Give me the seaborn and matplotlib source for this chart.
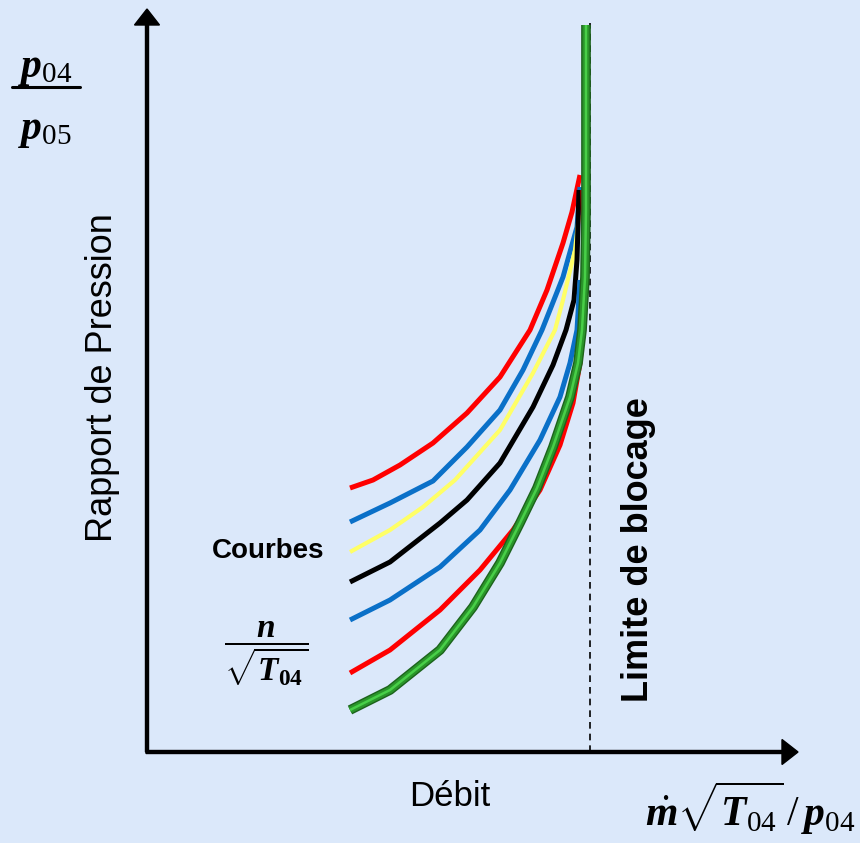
import numpy as np
import matplotlib
matplotlib.use("Agg")
import matplotlib.pyplot as plt
import seaborn as sns

sns.set_theme(style="white")
plt.rcParams["font.family"] = ["Liberation Sans", "DejaVu Sans"]
plt.rcParams["text.color"] = "black"
plt.rcParams["mathtext.fontset"] = "custom"
plt.rcParams["mathtext.rm"] = "Liberation Serif"
plt.rcParams["mathtext.it"] = "Liberation Serif:italic:bold"
plt.rcParams["mathtext.bf"] = "Liberation Serif:bold"

BG = "#dbe8fa"

# speed lines n/sqrt(T04): debit (x) vs pressure ratio (y), arbitrary units
red_top_x = [203, 226, 253, 286, 320, 353, 383, 400, 416, 425, 433]
red_top_y = [264, 272, 287, 309, 339, 375, 422, 462, 509, 540, 577]
blue_top_x = [203, 243, 286, 320, 353, 376, 395, 416, 430, 433]
blue_top_y = [230, 249, 271, 305, 342, 382, 422, 475, 525, 565]
yellow_x = [203, 243, 276, 308, 353, 386, 408, 416, 428, 432]
yellow_y = [200, 222, 245, 272, 322, 379, 422, 452, 502, 537]
black_x = [203, 243, 293, 320, 353, 386, 406, 419, 427, 430, 432]
black_y = [170, 190, 229, 252, 289, 345, 387, 422, 452, 492, 562]
blue_low_x = [203, 243, 293, 333, 363, 393, 413, 423, 430, 433]
blue_low_y = [132, 152, 185, 222, 262, 312, 355, 389, 422, 472]
red_low_x = [203, 243, 293, 333, 366, 393, 413, 426, 433, 436, 437, 436]
red_low_y = [79, 102, 142, 182, 222, 262, 307, 349, 389, 422, 492, 562]

# operating line (green)
green_x = [203, 243, 293, 326, 353, 373, 390, 406, 423, 431, 435, 438, 439, 439, 439]
green_y = [42, 62, 102, 145, 189, 229, 264, 305, 355, 389, 422, 475, 542, 592, 727]

# choking limit
choke_x = [443, 443]
choke_y = [0, 729]

speed_lines = [
    (red_top_x, red_top_y, "#ff0000", 3.6),
    (blue_top_x, blue_top_y, "#0a70c8", 3.6),
    (yellow_x, yellow_y, "#ffff66", 3.0),
    (black_x, black_y, "#000000", 3.6),
    (blue_low_x, blue_low_y, "#0a70c8", 3.6),
    (red_low_x, red_low_y, "#ff0000", 3.6),
]

fig = plt.figure(figsize=(8.6, 8.43), dpi=100)
fig.patch.set_facecolor(BG)
ax = fig.add_axes([0, 0, 1, 1])
ax.set_facecolor(BG)
ax.set_xlim(-147, 713)
ax.set_ylim(-91, 752)
ax.axis("off")

for xs, ys, col, lw in speed_lines:
    sns.lineplot(x=xs, y=ys, sort=False, estimator=None, color=col, lw=lw,
                 solid_capstyle="butt", solid_joinstyle="round", ax=ax)

sns.lineplot(x=choke_x, y=choke_y, sort=False, estimator=None, color="black",
             lw=1.2, linestyle=(0, (4, 3)), ax=ax)

for col, lw in [("#1c631c", 7.0), ("#2a952a", 5.0), ("#48cf48", 1.8)]:
    sns.lineplot(x=green_x, y=green_y, sort=False, estimator=None, color=col,
                 lw=lw, solid_capstyle="butt", solid_joinstyle="round", ax=ax)

# axes with arrows
ax.arrow(0, 0, 0, 743, width=3, head_width=25, head_length=16,
         length_includes_head=True, color="black")
ax.arrow(-1, 0, 652, 0, width=3, head_width=25, head_length=16,
         length_includes_head=True, color="black")

ax.text(-44, 374, "Rapport de Pression", rotation=90, fontsize=26,
        ha="center", va="center")
ax.text(303, -45, "Débit", fontsize=25, ha="center", va="center")
ax.text(491, 202, "Limite de blocage", rotation=90, fontsize=26,
        fontweight="bold", ha="center", va="center")
ax.text(121, 201, "Courbes", fontsize=20, fontweight="bold",
        ha="center", va="center")
ax.text(119, 98, r"$\dfrac{n}{\sqrt{T_{\mathbf{04}}}}$", fontsize=24,
        ha="center", va="center")

# y-axis quantity p04 / p05
ax.text(-102, 684, r"$p_{04}$", fontsize=30, ha="center", va="center")
ax.plot([-135, -67], [665, 665], color="black", lw=2.2)
ax.text(-102, 622, r"$p_{05}$", fontsize=30, ha="center", va="center")

ax.text(603, -56, r"$\dot{m}\sqrt{T_{04}}\,/\,p_{04}$", fontsize=30,
        ha="center", va="center")

fig.savefig("out.png", dpi=100, facecolor=BG)
